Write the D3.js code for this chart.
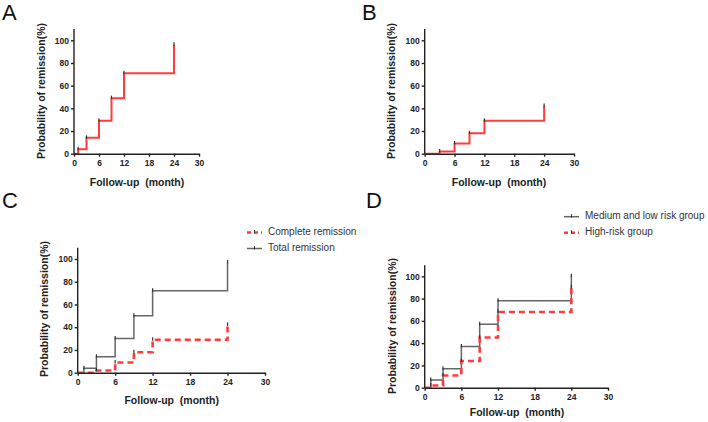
<!DOCTYPE html>
<html>
<head>
<meta charset="utf-8">
<title></title>
<style>
body { margin: 0; background: #fff; }
svg { display: block; }
text { font-family: "Liberation Sans", Arial, sans-serif; }
.axis path, .axis line { stroke: #222; stroke-width: 1.4px; }
.axis text { font-size: 8.5px; font-weight: bold; fill: #222; }
.lab { font-size: 10.5px; font-weight: bold; fill: #222; }
.letter { font-size: 22px; fill: #111; }
.leg { font-size: 10px; fill: #333; }
</style>
</head>
<body>
<script src="https://cdn.jsdelivr.net/npm/d3@7"></script>
<script>

// months at which each curve steps up
var stepMonths = [1, 3, 6, 9, 12, 24];
var xTicks = [0, 6, 12, 18, 24, 30];
var yTicks = [0, 20, 40, 60, 80, 100];

// A: total remission, B: complete remission
var totalA = [4, 14, 29, 49, 71, 96];
var completeB = [0, 2, 9, 18, 29, 42];
// C
var totalC = [4, 14, 30, 50, 72, 97];
var completeC = [0, 2, 9, 18, 29, 42];
// D
var medLowD = [7, 17, 37, 57, 78, 100];
var highD = [2, 11, 24, 45, 68, 90];

var RED = "#ff3c3c", GREY = "#666";

var svg = d3.select("body").append("svg")
    .attr("width", 708)
    .attr("height", 422);

function panel(p) {
  var x = d3.scaleLinear().domain([0, 30]).range([p.x0, p.x1]);
  var y = d3.scaleLinear().domain([0, 100]).range([p.y0, p.y100]);
  var g = svg.append("g");

  g.append("text").attr("class", "letter")
      .attr("x", p.lx).attr("y", p.ly).text(p.letter);

  // curves
  p.series.forEach(function(s) {
    var pts = [[0, 0]].concat(stepMonths.map(function(m, i) { return [m, s.values[i]]; }));
    g.append("path")
        .attr("d", d3.line().x(function(d) { return x(d[0]); }).y(function(d) { return y(d[1]); })
            .curve(d3.curveStepAfter)(pts))
        .attr("fill", "none")
        .attr("stroke", s.color)
        .attr("stroke-width", s.dash ? 2.6 : (s.color == RED ? 2 : 1.5))
        .attr("stroke-dasharray", s.dash ? "6,4" : null);
    // censor marks
    g.selectAll(null)
        .data(pts.filter(function(d, i) { return i > 0 && d[1] > pts[i - 1][1]; }))
        .enter().append("line")
        .attr("x1", function(d) { return x(d[0]); })
        .attr("x2", function(d) { return x(d[0]); })
        .attr("y1", function(d) { return y(d[1]) + 1; })
        .attr("y2", function(d) { return y(d[1]) - 2.5; })
        .attr("stroke", "#333")
        .attr("stroke-width", 1.2);
  });

  // axes
  var yTop = y(110);
  var ya = g.append("g").attr("class", "axis")
      .attr("transform", "translate(" + p.x0 + ",0)")
      .call(d3.axisLeft(y).tickValues(yTicks).tickSize(3).tickPadding(2).tickSizeOuter(0));
  ya.select(".domain").attr("d", "M0," + yTop + "V" + p.y0);
  g.append("g").attr("class", "axis")
      .attr("transform", "translate(0," + p.y0 + ")")
      .call(d3.axisBottom(x).tickValues(xTicks).tickSize(3).tickPadding(3).tickSizeOuter(0));

  g.append("text").attr("class", "lab")
      .attr("x", p.xlx).attr("y", p.xly)
      .attr("text-anchor", "middle").attr("dominant-baseline", "middle")
      .text("Follow-up  (month)").attr("xml:space", "preserve")
      .style("white-space", "pre");
  g.append("text").attr("class", "lab")
      .attr("transform", "translate(" + p.ylx + "," + p.yly + ") rotate(-90)")
      .attr("text-anchor", "middle").attr("dominant-baseline", "middle")
      .text("Probability of remission(%)");

  // legend
  if (p.legend) {
    p.legend.forEach(function(s, i) {
      var ly = p.legY + i * 16;
      g.append("line")
          .attr("x1", p.legX).attr("x2", p.legX + 15)
          .attr("y1", ly).attr("y2", ly)
          .attr("stroke", s.color)
          .attr("stroke-width", s.dash ? 2.6 : 1.5)
          .attr("stroke-dasharray", s.dash ? "4,3" : null);
      g.append("line")
          .attr("x1", p.legX + 7.5).attr("x2", p.legX + 7.5)
          .attr("y1", ly + 1).attr("y2", ly - 2.5)
          .attr("stroke", "#333").attr("stroke-width", 1);
      g.append("text").attr("class", "leg")
          .attr("x", p.legX + 21).attr("y", ly)
          .attr("dominant-baseline", "middle")
          .text(s.name);
    });
  }
}

var totA = {values: totalA, color: RED};
var comB = {values: completeB, color: RED};
var comC = {name: "Complete remission", values: completeC, color: RED, dash: true};
var totC = {name: "Total remission", values: totalC, color: GREY};
var mlD = {name: "Medium and low risk group", values: medLowD, color: GREY};
var hiD = {name: "High-risk group", values: highD, color: RED, dash: true};

panel({letter: "A", lx: 2, ly: 20, x0: 74, x1: 199, y0: 153.7, y100: 40.3,
       xlx: 137, xly: 183, ylx: 42, yly: 91, series: [totA]});
panel({letter: "B", lx: 362, ly: 20, x0: 424.7, x1: 574, y0: 153.7, y100: 40.3,
       xlx: 499, xly: 183, ylx: 392, yly: 91, series: [comB]});
panel({letter: "C", lx: 2, ly: 208, x0: 77.7, x1: 265, y0: 372.7, y100: 259,
       xlx: 171.7, xly: 401, ylx: 45.7, yly: 309, series: [totC, comC],
       legend: [comC, totC], legX: 247, legY: 232.5});
panel({letter: "D", lx: 366, ly: 208, x0: 424.7, x1: 608, y0: 387.7, y100: 276.3,
       xlx: 517, xly: 413, ylx: 393, yly: 326, series: [mlD, hiD],
       legend: [mlD, hiD], legX: 564, legY: 216.7});

</script>
</body>
</html>
